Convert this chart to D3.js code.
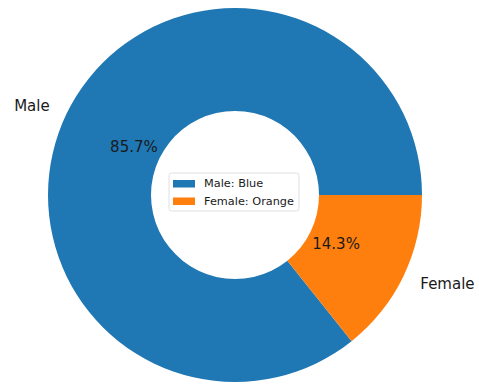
<!DOCTYPE html>
<html>
<head>
<meta charset="utf-8">
<script src="https://cdn.jsdelivr.net/npm/d3@7"></script>
<style>
  body { margin: 0; background: #fff; }
  text { font-family: "DejaVu Sans", sans-serif; fill: #1a1a1a; }
</style>
</head>
<body>
<script>
// data
const categories = ["Male", "Female"];
const counts = [6, 1];
const colors = ["#1f77b4", "#ff7f0e"];
const legendLabels = ["Male: Blue", "Female: Orange"];

const width = 479;
const height = 384;
const cx = 235;
const cy = 195;
const outerR = 187;
const innerR = 84;

const svg = d3.select("body")
  .append("svg")
  .attr("width", width)
  .attr("height", height);

const g = svg.append("g").attr("transform", `translate(${cx},${cy})`);

// matplotlib style: start at 3 o'clock, counterclockwise
const pie = d3.pie()
  .sort(null)
  .startAngle(Math.PI / 2)
  .endAngle(Math.PI / 2 - 2 * Math.PI);

const arcs = pie(counts);
const total = d3.sum(counts);

const arc = d3.arc().innerRadius(innerR).outerRadius(outerR);

g.selectAll("path.slice")
  .data(arcs)
  .join("path")
  .attr("class", "slice")
  .attr("d", arc)
  .attr("fill", (d, i) => colors[i]);

// position on a radius given a d3 arc datum
const midPoint = (d, r) => {
  const a = (d.startAngle + d.endAngle) / 2;
  return [r * Math.sin(a), -r * Math.cos(a)];
};

// category labels outside
g.selectAll("text.cat")
  .data(arcs)
  .join("text")
  .attr("class", "cat")
  .attr("x", d => midPoint(d, outerR * 1.1)[0])
  .attr("y", d => midPoint(d, outerR * 1.1)[1])
  .attr("dy", "0.35em")
  .attr("text-anchor", d => midPoint(d, 1)[0] < 0 ? "end" : "start")
  .style("font-size", "15px")
  .text((d, i) => categories[i]);

// percentage labels
g.selectAll("text.pct")
  .data(arcs)
  .join("text")
  .attr("class", "pct")
  .attr("x", d => midPoint(d, outerR * 0.6)[0])
  .attr("y", d => midPoint(d, outerR * 0.6)[1])
  .attr("dy", "0.35em")
  .attr("text-anchor", "middle")
  .style("font-size", "15px")
  .text(d => (d.value / total * 100).toFixed(1) + "%");

// legend in the hole
const legend = svg.append("g").attr("transform", "translate(169,173)");

legend.append("rect")
  .attr("width", 130)
  .attr("height", 38)
  .attr("rx", 2.5)
  .attr("fill", "#fff")
  .attr("fill-opacity", 0.8)
  .attr("stroke", "#d8d8d8")
  .attr("stroke-width", 0.8);

const rows = legend.selectAll("g.row")
  .data(legendLabels)
  .join("g")
  .attr("class", "row")
  .attr("transform", (d, i) => `translate(0,${10.5 + i * 17.5})`);

rows.append("rect")
  .attr("x", 4)
  .attr("y", -3.5)
  .attr("width", 22)
  .attr("height", 7.5)
  .attr("fill", (d, i) => colors[i]);

rows.append("text")
  .attr("x", 35)
  .attr("dy", "0.35em")
  .style("font-size", "11.3px")
  .text(d => d);
</script>
</body>
</html>
